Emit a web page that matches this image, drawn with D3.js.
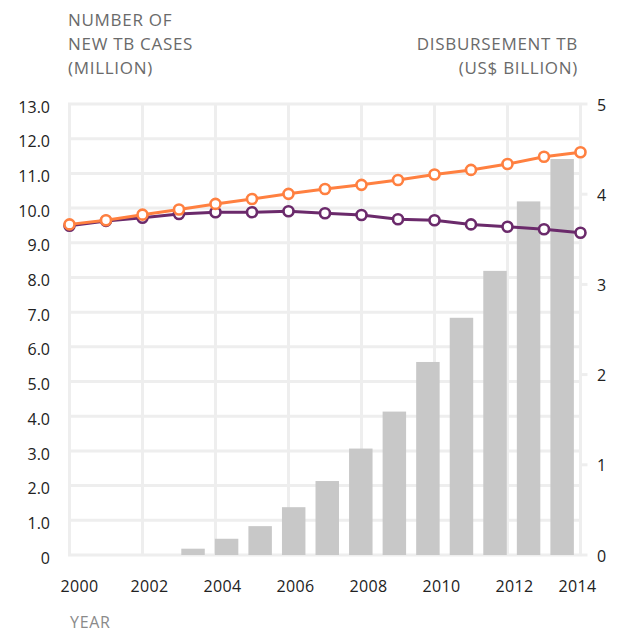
<!DOCTYPE html>
<html>
<head>
<meta charset="utf-8">
<script src="https://cdn.jsdelivr.net/npm/d3@7"></script>
<style>
html,body{margin:0;padding:0;background:#fff;}
svg{display:block;}
text{font-family:"Open Sans","Lato",sans-serif;}
</style>
</head>
<body>
<svg id="chart" width="627" height="632"></svg>
<script>
const years = [2000,2001,2002,2003,2004,2005,2006,2007,2008,2009,2010,2011,2012,2013,2014];
const newCasesOrange = [9.53,9.65,9.81,9.96,10.12,10.26,10.41,10.55,10.67,10.81,10.97,11.10,11.27,11.48,11.61];
const newCasesPurple = [9.49,9.63,9.72,9.83,9.88,9.88,9.91,9.85,9.80,9.68,9.65,9.53,9.46,9.39,9.29];
const disbursement = [null,null,null,0.07,0.18,0.32,0.53,0.82,1.18,1.59,2.14,2.63,3.15,3.92,4.39];
const leftTicks = [0,1,2,3,4,5,6,7,8,9,10,11,12,13];
const rightTicks = [0,1,2,3,4,5];
const xTicks = [2000,2002,2004,2006,2008,2010,2012,2014];
const leftTitle = ["NUMBER OF","NEW TB CASES","(MILLION)"];
const rightTitle = ["DISBURSEMENT TB","(US$ BILLION)"];
const xTitle = "YEAR";

const svg = d3.select("#chart");
const x = d3.scaleLinear().domain([2000,2014]).range([69.5,580.5]);
const xb = d3.scaleBand().domain(years).range([75.6,578.9]).paddingInner(0.3).paddingOuter(0.15);
const yL = d3.scaleLinear().domain([0,13]).range([555,104]);
const yR = d3.scaleLinear().domain([0,5]).range([555,104]);

const grid = svg.append("g");
grid.selectAll("line.h").data(leftTicks).join("line")
  .attr("x1",x(2000)-1.5).attr("x2",x(2014)+1.5)
  .attr("y1",d=>yL(d)).attr("y2",d=>yL(d))
  .attr("stroke","#eeeeee").attr("stroke-width",3);
grid.selectAll("line.v").data(xTicks).join("line")
  .attr("x1",d=>x(d)).attr("x2",d=>x(d))
  .attr("y1",yL(13)).attr("y2",yL(0))
  .attr("stroke","#eeeeee").attr("stroke-width",3);

// right axis small ticks
svg.append("g").selectAll("line").data(rightTicks).join("line")
  .attr("x1",x(2014)+1.5).attr("x2",x(2014)+7)
  .attr("y1",d=>yR(d)).attr("y2",d=>yR(d))
  .attr("stroke","#eeeeee").attr("stroke-width",3);

// bars
svg.append("g").selectAll("rect").data(years.map((y,i)=>({y,v:disbursement[i]})).filter(d=>d.v!=null)).join("rect")
  .attr("x",d=>xb(d.y)).attr("width",xb.bandwidth())
  .attr("y",d=>yR(d.v)).attr("height",d=>yR(0)-yR(d.v))
  .attr("fill","#c8c8c8");

function series(vals,color){
  const g = svg.append("g");
  const line = d3.line().x((d,i)=>x(years[i])).y(d=>yL(d));
  g.append("path").attr("d",line(vals)).attr("fill","none")
    .attr("stroke",color).attr("stroke-width",3);
  g.selectAll("circle").data(vals).join("circle")
    .attr("cx",(d,i)=>x(years[i])).attr("cy",d=>yL(d)).attr("r",5)
    .attr("fill","#fff").attr("stroke",color).attr("stroke-width",2.6);
}
series(newCasesPurple,"#6b2a6b");
series(newCasesOrange,"#ff8040");

// left tick labels
svg.append("g").selectAll("text").data(leftTicks).join("text")
  .attr("x",50).attr("y",d=>yL(d)+3).attr("dy","0.35em")
  .attr("text-anchor","end").attr("font-size",16).attr("fill","#222")
  .text(d=>d===0?"0":d.toFixed(1));
// right tick labels
svg.append("g").selectAll("text").data(rightTicks).join("text")
  .attr("x",597).attr("y",d=>yR(d)+1).attr("dy","0.35em")
  .attr("text-anchor","start").attr("font-size",16).attr("fill","#222")
  .text(d=>d);
// x tick labels
svg.append("g").selectAll("text").data(xTicks).join("text")
  .attr("x",(d,i)=>x(d)+(i===0?10:i===xTicks.length-1?-3:7)).attr("y",586).attr("dy","0.35em")
  .attr("text-anchor","middle").attr("font-size",16).attr("fill","#222")
  .attr("letter-spacing",0.4)
  .text(d=>d);

// titles
svg.append("g").selectAll("text").data(leftTitle).join("text")
  .attr("x",68).attr("y",(d,i)=>26+i*24)
  .attr("font-size",17).attr("letter-spacing",0.7).attr("fill","#6a6a6a").text(d=>d);
svg.append("g").selectAll("text").data(rightTitle).join("text")
  .attr("x",578).attr("y",(d,i)=>50+i*24).attr("text-anchor","end")
  .attr("font-size",17).attr("letter-spacing",0.7).attr("fill","#6a6a6a").text(d=>d);
svg.append("text").attr("x",70).attr("y",628)
  .attr("font-size",16).attr("letter-spacing",0.7).attr("fill","#8a8a8a").text(xTitle);
</script>
</body>
</html>
